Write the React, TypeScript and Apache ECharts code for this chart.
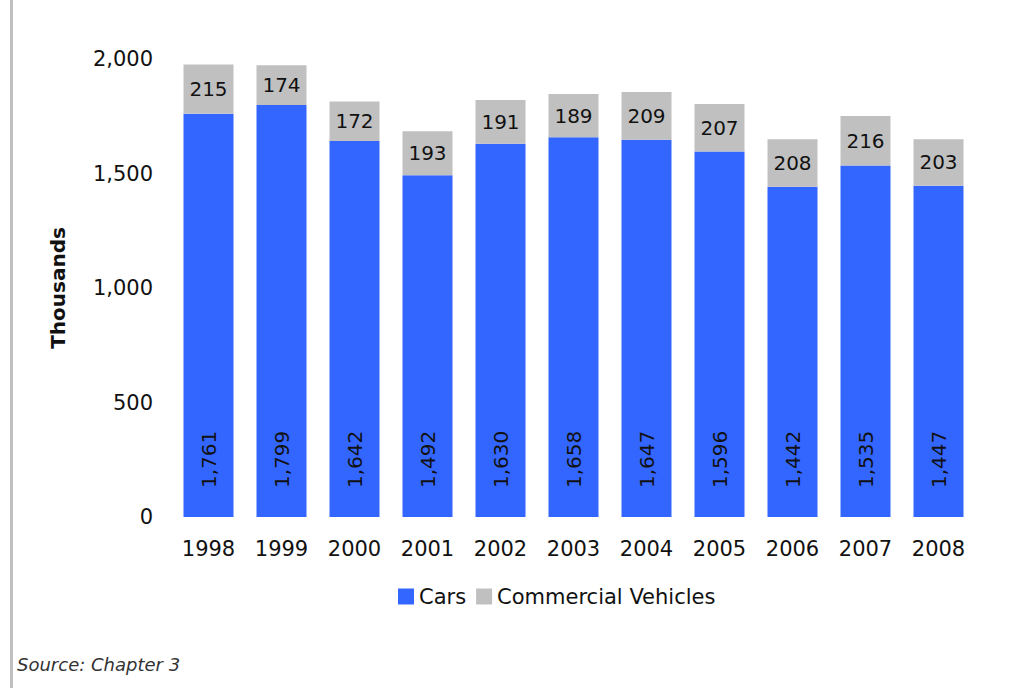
import React, { useEffect, useRef } from "react";
import * as echarts from "echarts";

const years = ["1998", "1999", "2000", "2001", "2002", "2003", "2004", "2005", "2006", "2007", "2008"];
const cars = [1761, 1799, 1642, 1492, 1630, 1658, 1647, 1596, 1442, 1535, 1447];
const commercial = [215, 174, 172, 193, 191, 189, 209, 207, 208, 216, 203];
const yTicks = { min: 0, max: 2000, interval: 500 };

const FONT = "DejaVu Sans";
const fmt = (v: number) => v.toLocaleString("en-US");

export default function App() {
  const ref = useRef<HTMLDivElement>(null);
  useEffect(() => {
    if (!ref.current) return;
    const chart = echarts.init(ref.current, undefined, { renderer: "svg" });
    chart.setOption({
      animation: false,
      backgroundColor: "#ffffff",
      grid: { left: 172, right: 60, top: 59, bottom: 171 },
      legend: {
        data: ["Cars", "Commercial Vehicles"],
        left: 393,
        top: 581,
        itemWidth: 16,
        itemHeight: 16,
        itemGap: 10,
        icon: "rect",
        textStyle: { fontFamily: FONT, fontSize: 21, color: "#111" },
      },
      xAxis: {
        type: "category",
        data: years,
        axisLine: { show: false },
        axisTick: { show: false },
        axisLabel: { fontFamily: FONT, fontSize: 21, color: "#111", margin: 21 },
      },
      yAxis: {
        type: "value",
        min: yTicks.min,
        max: yTicks.max,
        interval: yTicks.interval,
        name: "Thousands",
        nameLocation: "middle",
        nameGap: 104,
        nameTextStyle: { fontFamily: FONT, fontSize: 20, fontWeight: "bold", color: "#111" },
        splitLine: { show: false },
        axisLine: { show: false },
        axisTick: { show: false },
        axisLabel: {
          fontFamily: FONT,
          fontSize: 21,
          color: "#111",
          margin: 19,
          formatter: (v: number) => fmt(v),
        },
      },
      series: [
        {
          name: "Cars",
          type: "bar",
          stack: "total",
          data: cars,
          barWidth: 50,
          itemStyle: { color: "#3366FF" },
          label: {
            show: true,
            position: "insideBottom",
            rotate: 90,
            align: "left",
            verticalAlign: "middle",
            distance: 29,
            fontFamily: FONT,
            fontSize: 20,
            color: "#111",
            formatter: (p: any) => fmt(p.value),
          },
        },
        {
          name: "Commercial Vehicles",
          type: "bar",
          stack: "total",
          data: commercial,
          barWidth: 50,
          itemStyle: { color: "#C0C0C0" },
          label: {
            show: true,
            position: "inside",
            fontFamily: FONT,
            fontSize: 20,
            color: "#111",
            formatter: (p: any) => fmt(p.value),
          },
        },
      ],
      graphic: [
        {
          type: "line",
          shape: { x1: 11.5, y1: 0, x2: 11.5, y2: 688 },
          style: { stroke: "#c0c0c0", lineWidth: 3 },
        },
        {
          type: "text",
          left: 17,
          top: 655,
          style: {
            text: "Source: Chapter 3",
            font: `italic 18px "${FONT}"`,
            fill: "#333",
          },
        },
      ],
    });
    return () => chart.dispose();
  }, []);
  return (
    <div
      ref={ref}
      style={{ position: "fixed", left: 0, top: 0, width: 1035, height: 688 }}
    />
  );
}
